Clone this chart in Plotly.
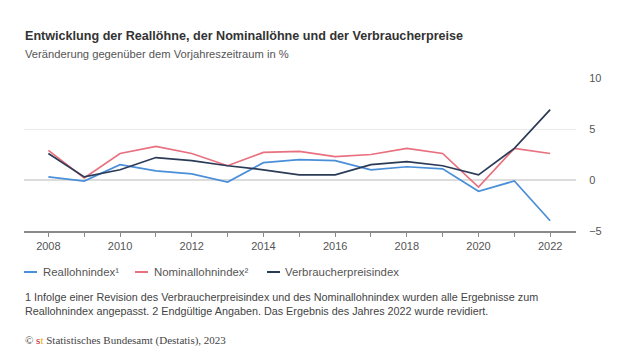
import plotly.graph_objects as go

years = list(range(2008, 2023))
reallohn = [0.3, -0.1, 1.5, 0.9, 0.6, -0.2, 1.7, 2.0, 1.9, 1.0, 1.3, 1.1, -1.1, -0.1, -4.0]
nominallohn = [2.9, 0.2, 2.6, 3.3, 2.6, 1.4, 2.7, 2.8, 2.3, 2.5, 3.1, 2.6, -0.7, 3.1, 2.6]
vpi = [2.6, 0.3, 1.0, 2.2, 1.9, 1.4, 1.0, 0.5, 0.5, 1.5, 1.8, 1.4, 0.5, 3.1, 6.9]

series_names = ["Reallohnindex¹", "Nominallohnindex²", "Verbraucherpreisindex"]
colors = ["#4a8fd8", "#e8707f", "#2b3b57"]
y_ticks = [-5, 0, 5, 10]
x_ticks = [2008, 2010, 2012, 2014, 2016, 2018, 2020, 2022]

fig = go.Figure()
for name, vals, col in zip(series_names, [reallohn, nominallohn, vpi], colors):
    fig.add_trace(go.Scatter(x=years, y=vals, mode="lines", name=name,
                             line=dict(color=col, width=1.7), showlegend=False))

OFF = 8  # default page body margin
W, H = 620 - OFF, 356 - OFF
L, R, T, B = 24 - OFF, 44, 78 - OFF, 125
PW, PH = W - L - R, H - T - B

fig.update_layout(
    width=W, height=H,
    margin=dict(l=L, r=R, t=T, b=B),
    paper_bgcolor="white", plot_bgcolor="white",
    font=dict(family="Liberation Sans, Arial, sans-serif", color="#555555"),
    xaxis=dict(range=[2007.32, 2022.72], tickvals=x_ticks, ticktext=[str(v) for v in x_ticks],
               showgrid=False, zeroline=False, showline=True, linecolor="#8a8a8a", linewidth=1.5,
               ticks="outside", ticklen=4, tickcolor="#8a8a8a", tickwidth=1,
               minor=dict(dtick=1, tick0=2008, ticks="outside", ticklen=4, tickcolor="#8a8a8a", showgrid=False),
               tickfont=dict(size=11, color="#555555"), fixedrange=True),
    yaxis=dict(range=[-5, 10], tickvals=y_ticks, side="right", showgrid=True, gridcolor="#ececec",
               gridwidth=1, zeroline=True, zerolinecolor="#dcdcdc", zerolinewidth=2,
               showline=False, ticks="outside", ticklen=10, tickcolor="rgba(0,0,0,0)",
               tickfont=dict(size=11, color="#555555"), fixedrange=True),
)

def px_x(p):
    return (p - OFF - L) / PW

def px_y(p):
    return (H - B - (p - OFF)) / PH

ann = []
ann.append(dict(x=px_x(23), y=px_y(36), xref="paper", yref="paper", xanchor="left", yanchor="middle",
                text="<b>Entwicklung der Reallöhne, der Nominallöhne und der Verbraucherpreise</b>",
                showarrow=False, font=dict(size=12.6, color="#333333")))
ann.append(dict(x=px_x(23), y=px_y(54), xref="paper", yref="paper", xanchor="left", yanchor="middle",
                text="Veränderung gegenüber dem Vorjahreszeitraum in %",
                showarrow=False, font=dict(size=11.2, color="#555555")))

# legend
leg_x = [(24, 41), (135, 152), (267, 283)]
shapes = []
for (lx, tx), name, col in zip(leg_x, series_names, colors):
    shapes.append(dict(type="line", xref="paper", yref="paper", x0=px_x(lx), x1=px_x(lx + 13),
                       y0=px_y(272), y1=px_y(272), line=dict(color=col, width=2)))
    ann.append(dict(x=px_x(tx), y=px_y(272), xref="paper", yref="paper", xanchor="left", yanchor="middle",
                    text=name, showarrow=False, font=dict(size=11.4, color="#555555")))

ann.append(dict(x=px_x(23), y=px_y(303.5), xref="paper", yref="paper", xanchor="left", yanchor="middle",
                align="left",
                text="1 Infolge einer Revision des Verbraucherpreisindex und des Nominallohnindex wurden alle Ergebnisse zum<br>"
                     "Reallohnindex angepasst. 2 Endgültige Angaben. Das Ergebnis des Jahres 2022 wurde revidiert.",
                showarrow=False, font=dict(size=10.8, color="#444444")))
ann.append(dict(x=px_x(23), y=px_y(340), xref="paper", yref="paper", xanchor="left", yanchor="middle",
                text="© <span style='color:#c8102e'>s</span><span style='color:#e8b000'>t</span> Statistisches Bundesamt (Destatis), 2023",
                showarrow=False, font=dict(size=11, color="#444444", family="Liberation Serif, Times New Roman, serif")))

fig.update_layout(annotations=ann, shapes=shapes)
fig.write_html("out.html")
